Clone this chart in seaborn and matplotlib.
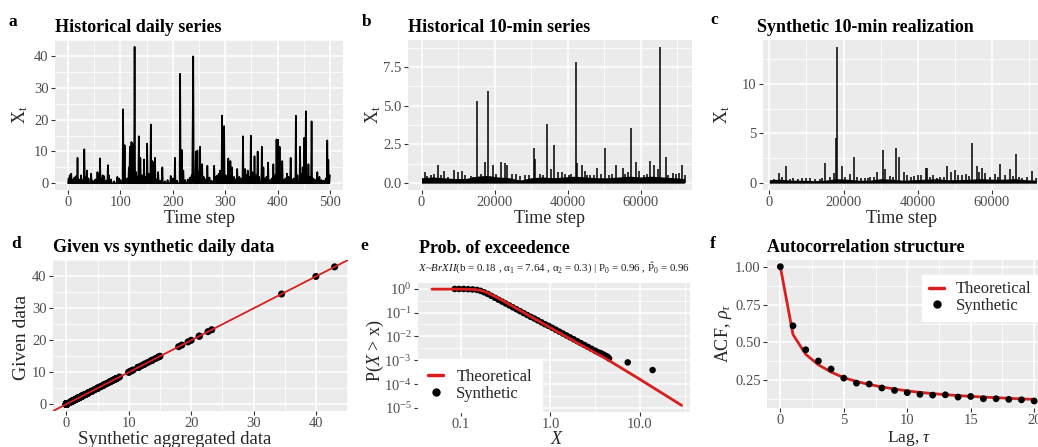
import numpy as np
import pandas as pd
import matplotlib
matplotlib.use("Agg")
import matplotlib.pyplot as plt
from matplotlib.lines import Line2D
from matplotlib.ticker import FixedLocator, NullFormatter
import seaborn as sns

# ------------------------------------------------------------------ data
# (a) historical daily series (day index -> depth); days not listed are dry (0)
a_peak_days = [3, 6, 18, 25, 31, 36, 44, 56, 61, 66, 76, 78, 94, 97, 105, 108, 113, 118, 121, 123,
               127, 130, 135, 138, 145, 151, 158, 161, 166, 172, 180, 196, 204, 214, 217, 220, 238,
               239, 244, 247, 252, 256, 266, 279, 285, 290, 294, 298, 306, 310, 313, 323, 334, 338,
               343, 349, 356, 362, 370, 373, 382, 392, 398, 401, 404, 409, 418, 425, 435, 443, 451,
               454, 459, 465, 476, 492, 495, 497, 500]
a_peak_vals = [2.5, 3.0, 8.0, 2.5, 10.7, 4.0, 3.0, 3.5, 7.8, 2.5, 5.7, 2.5, 2.0, 1.5, 23.3, 12.0, 1.5,
               11.5, 13.0, 12.5, 43.0, 3.5, 14.8, 8.0, 7.5, 12.5, 18.5, 7.0, 8.0, 3.5, 5.0, 2.3, 8.0,
               34.5, 10.5, 4.0, 20.0, 40.0, 10.0, 10.3, 11.5, 6.0, 5.5, 5.5, 2.5, 4.0, 21.3, 18.0, 7.8,
               7.0, 5.0, 4.5, 14.8, 4.5, 4.0, 15.0, 8.5, 10.0, 11.5, 5.0, 6.5, 6.0, 13.8, 13.7, 11.5,
               7.0, 3.0, 8.0, 21.3, 11.5, 14.3, 22.7, 6.0, 19.5, 3.5, 1.5, 13.5, 7.3, 2.5]
a_low_days = [1, 4, 9, 12, 15, 21, 28, 34, 39, 47, 52, 58, 63, 69, 73, 82, 88, 100, 110, 116, 120,
              125, 132, 141, 148, 155, 163, 169, 176, 185, 190, 200, 208, 224, 229, 233, 236, 242,
              249, 259, 262, 270, 274, 282, 288, 301, 317, 320, 327, 330, 341, 346, 352, 359, 365,
              376, 379, 386, 389, 395, 406, 412, 415, 421, 428, 431, 438, 446, 448, 456, 462, 468,
              471, 480, 484, 488]
a_low_vals = [1.5, 2.0, 1.0, 1.8, 2.2, 1.2, 1.0, 2.0, 1.5, 0.8, 1.2, 2.8, 1.5, 2.2, 0.8, 1.2, 0.6,
              1.0, 1.2, 5.0, 7.5, 3.0, 2.0, 2.5, 2.0, 3.0, 6.5, 1.2, 0.8, 0.6, 1.0, 1.5, 0.8, 1.0,
              1.2, 1.8, 2.5, 2.0, 3.5, 2.0, 1.2, 1.8, 0.8, 2.0, 3.0, 2.5, 2.0, 1.2, 2.0, 1.5, 2.5,
              2.0, 3.5, 2.5, 2.0, 1.5, 2.0, 1.0, 1.5, 2.5, 3.0, 1.0, 1.5, 2.0, 1.2, 1.5, 2.5, 3.0,
              5.0, 2.5, 2.0, 1.5, 1.2, 2.0, 1.0, 0.8]
n_days = 501

# (b) historical 10-min series: bursts (step, value) and the dense low-level band
b_steps = [900, 1500, 2540, 3300, 4540, 5200, 6180, 7280, 8840, 9850, 11110, 12000, 13410, 14200,
           15050, 16300, 17320, 18220, 19430, 20500, 21700, 22790, 23420, 24790, 25800, 27000,
           28260, 29360, 30640, 31000, 32500, 33200, 34370, 35300, 36200, 37210, 38300, 39200,
           40300, 41000, 42220, 42570, 43780, 44680, 45300, 46050, 47100, 48040, 49200, 50230,
           51250, 52070, 53160, 54990, 55700, 56360, 57180, 58550, 59600, 60900, 61800, 62540,
           63640, 64730, 65280, 66840, 67500, 68670, 69500, 70480, 71140, 72000]
b_vals = [0.7, 0.45, 0.5, 0.6, 1.15, 0.5, 0.8, 0.4, 0.85, 0.75, 0.8, 0.5, 0.45, 0.4, 5.3, 0.6, 1.35,
          5.95, 1.15, 0.6, 1.35, 1.3, 1.2, 0.6, 0.6, 0.45, 0.55, 0.55, 2.25, 1.55, 0.6, 0.5, 3.8,
          0.9, 2.45, 0.7, 0.7, 0.6, 0.55, 0.6, 7.85, 1.3, 1.15, 0.8, 0.55, 0.5, 0.5, 0.95, 0.6, 2.3,
          0.55, 0.6, 1.15, 1.0, 0.6, 0.75, 3.55, 1.35, 0.8, 0.5, 0.6, 1.45, 1.15, 0.9, 8.8, 1.7,
          0.5, 0.65, 0.6, 0.65, 1.2, 0.5]
b_band_steps = [0, 3000, 6000, 9000, 12000, 15000, 18000, 21000, 24000, 27000, 30000, 33000, 36000,
                39000, 42000, 45000, 48000, 51000, 54000, 57000, 60000, 63000, 66000, 69000, 72000]
b_band_vals = [0.35, 0.4, 0.35, 0.3, 0.3, 0.45, 0.5, 0.4, 0.35, 0.2, 0.35, 0.4, 0.35, 0.4, 0.45,
               0.4, 0.35, 0.35, 0.4, 0.45, 0.4, 0.45, 0.4, 0.35, 0.3]

# (c) synthetic 10-min realization
c_steps = [1170, 2510, 3500, 4580, 5500, 6370, 7600, 8800, 9800, 10860, 12200, 13550, 14300, 15080,
           16420, 17320, 18040, 18220, 19570, 20500, 21620, 22800, 23610, 24700, 25840, 26500,
           27190, 28300, 29150, 30600, 31220, 32500, 33300, 34190, 34910, 36160, 37060, 38230,
           39000, 40020, 41000, 42180, 42450, 43300, 44240, 45100, 46030, 47200, 48010, 49000,
           50070, 50970, 51870, 52950, 53800, 54740, 56080, 56620, 57430, 58150, 59490, 60840,
           61500, 62270, 63530, 64880, 65600, 66410, 67200, 68020, 69400, 70890, 71800]
c_vals = [0.45, 1.0, 0.6, 1.75, 0.4, 0.5, 0.45, 0.5, 0.5, 0.5, 0.45, 0.4, 0.5, 2.0, 0.6, 1.0, 4.5,
          13.7, 1.7, 0.6, 0.9, 2.6, 0.6, 0.5, 0.5, 0.5, 0.6, 0.6, 1.1, 3.35, 1.4, 0.7, 0.6, 3.5,
          2.65, 1.15, 0.8, 0.65, 0.7, 0.8, 0.8, 1.5, 1.55, 0.6, 0.8, 0.5, 0.65, 0.6, 1.75, 1.15,
          1.3, 0.8, 0.8, 0.9, 0.7, 4.0, 1.75, 1.15, 1.55, 1.05, 0.65, 0.9, 0.6, 1.9, 0.8, 1.45,
          0.7, 2.9, 0.6, 0.5, 0.6, 1.2, 0.5]
c_band_steps = b_band_steps
c_band_vals = [0.35, 0.4, 0.3, 0.3, 0.25, 0.3, 0.45, 0.4, 0.3, 0.3, 0.45, 0.4, 0.3, 0.35, 0.4,
               0.45, 0.35, 0.35, 0.4, 0.45, 0.4, 0.4, 0.45, 0.35, 0.3]

# (e) probability of exceedence (log10 values)
e_theo_log10x = [-1.324, -1.0, -0.85, -0.78, -0.72, -0.66, -0.60, -0.50, -0.40, -0.20, 0.0, 0.30,
                 0.637, 1.0, 1.466]
e_theo_log10p = [-0.018, -0.018, -0.03, -0.07, -0.14, -0.25, -0.36, -0.57, -0.78, -1.21, -1.64,
                 -2.27, -2.97, -3.80, -4.89]
e_syn_log10x = [-1.07, -1.02, -0.97, -0.92, -0.87, -0.82, -0.78, -0.74, -0.70, -0.66, -0.62, -0.58,
                -0.54, -0.50, -0.46, -0.42, -0.38, -0.34, -0.30, -0.26, -0.22, -0.18, -0.14, -0.10,
                -0.06, -0.02, 0.02, 0.06, 0.10, 0.14, 0.18, 0.22, 0.26, 0.30, 0.34, 0.38, 0.42,
                0.46, 0.50, 0.53, 0.56, 0.58, 0.60, 0.62, 0.64, 0.655, 0.864, 1.142]
e_syn_log10p = [-0.01, -0.01, -0.01, -0.02, -0.03, -0.05, -0.09, -0.15, -0.22, -0.30, -0.38, -0.46,
                -0.54, -0.62, -0.70, -0.78, -0.86, -0.94, -1.02, -1.10, -1.18, -1.25, -1.33, -1.41,
                -1.49, -1.56, -1.64, -1.72, -1.80, -1.88, -1.96, -2.04, -2.12, -2.20, -2.28, -2.36,
                -2.44, -2.52, -2.60, -2.66, -2.70, -2.74, -2.78, -2.82, -2.86, -2.92, -3.09, -3.41]

# (f) autocorrelation structure
f_lags = list(range(21))
f_theo = [1.0, 0.552, 0.422, 0.353, 0.305, 0.268, 0.243, 0.223, 0.207, 0.193, 0.181, 0.171,
          0.163, 0.156, 0.150, 0.145, 0.140, 0.136, 0.132, 0.128, 0.125]
f_syn = [1.0, 0.61, 0.452, 0.378, 0.325, 0.265, 0.232, 0.226, 0.2, 0.184, 0.169, 0.158, 0.153,
         0.155, 0.14, 0.144, 0.129, 0.129, 0.125, 0.122, 0.114]

# ------------------------------------------------------------------ style
RED = "#D81E1E"
sns.set_theme(style="darkgrid", rc={"axes.facecolor": "#EBEBEB", "grid.color": "white",
                                    "axes.edgecolor": "none"})
plt.rcParams["font.family"] = ["Liberation Serif", "DejaVu Serif"]
plt.rcParams["mathtext.fontset"] = "custom"
plt.rcParams["mathtext.rm"] = "Liberation Serif"
plt.rcParams["mathtext.it"] = "Liberation Serif:italic"
plt.rcParams["mathtext.bf"] = "Liberation Serif:bold"

W, H = 1038, 447
fig = plt.figure(figsize=(W / 100, H / 100), dpi=100)
fig.patch.set_facecolor("white")


def add_ax(l, r, t, b):
    return fig.add_axes([l / W, 1 - b / H, (r - l) / W, (b - t) / H])


def ftext(x, y, s, **kw):
    kw.setdefault("ha", "center")
    kw.setdefault("va", "center")
    fig.text(x / W, 1 - y / H, s, **kw)


def style(ax, xmaj, xmin, ymaj, ymin, xlabels=None, ylabels=None):
    ax.xaxis.set_major_locator(FixedLocator(xmaj))
    ax.yaxis.set_major_locator(FixedLocator(ymaj))
    ax.xaxis.set_minor_locator(FixedLocator(xmin))
    ax.yaxis.set_minor_locator(FixedLocator(ymin))
    ax.xaxis.set_minor_formatter(NullFormatter())
    ax.yaxis.set_minor_formatter(NullFormatter())
    if xlabels is not None:
        ax.set_xticklabels(xlabels)
    if ylabels is not None:
        ax.set_yticklabels(ylabels)
    ax.grid(which="major", color="white", lw=1.1)
    ax.grid(which="minor", color="white", lw=0.55)
    ax.tick_params(which="major", bottom=True, left=True, length=3, width=0.8, color="#333333",
                   labelsize=10.5, labelcolor="#4D4D4D", pad=1.5)
    ax.tick_params(which="minor", length=0)
    for s in ax.spines.values():
        s.set_visible(False)
    ax.set_axisbelow(True)
    ax.set_xlabel("")
    ax.set_ylabel("")


# ---------------------------------------------------------------- panel a
daily = np.zeros(n_days)
daily[a_low_days] = a_low_vals
daily[a_peak_days] = a_peak_vals
df_a = pd.DataFrame({"day": np.arange(n_days), "x": daily})
ax = add_ax(55, 343, 40, 190)
sns.lineplot(data=df_a, x="day", y="x", color="black", lw=1.2, errorbar=None, ax=ax)
ax.set_xlim(-25, 525)
ax.set_ylim(-2.15, 45.15)
style(ax, [0, 100, 200, 300, 400, 500], [50, 150, 250, 350, 450],
      [0, 10, 20, 30, 40], [5, 15, 25, 35, 45])

# ---------------------------------------------------------------- panel b
ax = add_ax(408, 692, 40, 190)
ax.fill_between(b_band_steps, 0, b_band_vals, color="black", lw=0)
ax.vlines(b_steps, 0, b_vals, color="black", lw=1.1)
ax.set_xlim(-3700, 74000)
ax.set_ylim(-0.44, 9.24)
style(ax, [0, 20000, 40000, 60000], [10000, 30000, 50000, 70000],
      [0, 2.5, 5.0, 7.5], [1.25, 3.75, 6.25, 8.75],
      xlabels=["0", "20000", "40000", "60000"], ylabels=["0.0", "2.5", "5.0", "7.5"])

# ---------------------------------------------------------------- panel c
ax = add_ax(763, 1038, 40, 190)
ax.fill_between(c_band_steps, 0, c_band_vals, color="black", lw=0)
ax.vlines(c_steps, 0, c_vals, color="black", lw=1.1)
ax.set_xlim(-1700, 72400)
ax.set_ylim(-0.685, 14.385)
style(ax, [0, 20000, 40000, 60000], [10000, 30000, 50000, 70000],
      [0, 5, 10], [2.5, 7.5, 12.5], xlabels=["0", "20000", "40000", "60000"])

# ---------------------------------------------------------------- panel d
ax = add_ax(53, 348, 260, 411)
df_d = pd.DataFrame({"synthetic": daily, "given": daily})
sns.scatterplot(data=df_d, x="synthetic", y="given", color="black", s=26, edgecolor="none", ax=ax)
ax.axline((0, 0), slope=1, color=RED, lw=1.3)
ax.set_xlim(-2.15, 45.15)
ax.set_ylim(-2.15, 45.15)
style(ax, [0, 10, 20, 30, 40], [5, 15, 25, 35, 45], [0, 10, 20, 30, 40], [5, 15, 25, 35, 45])

# ---------------------------------------------------------------- panel e
ax = add_ax(418, 690, 283, 412)
ax.set_xscale("log")
ax.set_yscale("log")
df_es = pd.DataFrame({"x": np.power(10.0, e_syn_log10x), "p": np.power(10.0, e_syn_log10p)})
df_et = pd.DataFrame({"x": np.power(10.0, e_theo_log10x), "p": np.power(10.0, e_theo_log10p)})
sns.scatterplot(data=df_es, x="x", y="p", color="black", s=22, edgecolor="none", ax=ax, zorder=3)
sns.lineplot(data=df_et, x="x", y="p", color=RED, lw=2.0, sort=False, errorbar=None, ax=ax,
             zorder=4)
ax.set_xlim(10 ** -1.48, 10 ** 1.56)
ax.set_ylim(10 ** -5.17, 10 ** 0.24)
style(ax, [0.1, 1.0, 10.0], [10 ** -1.5, 10 ** -0.5, 10 ** 0.5, 10 ** 1.5],
      [1e-5, 1e-4, 1e-3, 1e-2, 1e-1, 1e0],
      [10 ** -4.5, 10 ** -3.5, 10 ** -2.5, 10 ** -1.5, 10 ** -0.5],
      xlabels=["0.1", "1.0", "10.0"],
      ylabels=[r"$10^{-5}$", r"$10^{-4}$", r"$10^{-3}$", r"$10^{-2}$", r"$10^{-1}$", r"$10^{0}$"])
leg_handles = [Line2D([0], [0], color=RED, lw=2.5),
               Line2D([0], [0], color="black", marker="o", ls="none", ms=5)]
leg = ax.legend(leg_handles, ["Theoretical", "Synthetic"], loc="lower left",
                bbox_to_anchor=(0, 0), borderaxespad=0, frameon=True, facecolor="white",
                edgecolor="white", framealpha=1, fancybox=False, fontsize=12,
                handlelength=0.9, handletextpad=0.8, labelspacing=0.05, borderpad=0.6)
leg.set_zorder(10)

# ---------------------------------------------------------------- panel f
ax = add_ax(767, 1038, 260, 408)
df_f = pd.DataFrame({"lag": f_lags, "theo": f_theo, "syn": f_syn})
sns.lineplot(data=df_f, x="lag", y="theo", color=RED, lw=2.0, errorbar=None, ax=ax, zorder=3)
sns.scatterplot(data=df_f, x="lag", y="syn", color="black", s=24, edgecolor="none", ax=ax,
                zorder=4)
ax.set_xlim(-1.05, 20.3)
ax.set_ylim(0.068, 1.044)
style(ax, [0, 5, 10, 15, 20], [2.5, 7.5, 12.5, 17.5], [0.25, 0.5, 0.75, 1.0],
      [0.125, 0.375, 0.625, 0.875], ylabels=["0.25", "0.50", "0.75", "1.00"])
leg = ax.legend(leg_handles, ["Theoretical", "Synthetic"], loc="upper right",
                bbox_to_anchor=(1.0, 0.9), borderaxespad=0, frameon=True, facecolor="white",
                edgecolor="white", framealpha=1, fancybox=False, fontsize=12,
                handlelength=0.9, handletextpad=0.7, labelspacing=0.05, borderpad=0.4)

# ---------------------------------------------------------------- texts
BOLD = dict(fontweight="bold", color="black")
for letter, x, y in [("a", 13, 22), ("b", 367, 22), ("c", 714, 20),
                     ("d", 16, 244), ("e", 364, 246), ("f", 713, 244)]:
    ftext(x, y, letter, fontsize=12.5, **BOLD)
for title, x, y in [("Historical daily series", 55, 27), ("Historical 10-min series", 408, 27),
                    ("Synthetic 10-min realization", 757, 27),
                    ("Given vs synthetic daily data", 53, 248), ("Prob. of exceedence", 419, 248),
                    ("Autocorrelation structure", 767, 247)]:
    ftext(x, y, title, fontsize=13, ha="left", **BOLD)
ftext(418, 268, r"$X$~$BrXII$(b = 0.18 , α$_1$ = 7.64 , α$_2$ = 0.3) | P$_0$ = 0.96 , "
      r"$\hat{\mathrm{P}}_0$ = 0.96", fontsize=7.8, ha="left", color="#1A1A1A")

for x in (199, 550, 902):
    ftext(x, 218, "Time step", fontsize=13)
for x in (20, 373, 722):
    ftext(x, 115, r"X$_\mathrm{t}$", fontsize=13, rotation=90)
ftext(175, 439, "Synthetic aggregated data", fontsize=13.5)
ftext(22, 337, "Given data", fontsize=14, rotation=90)
ftext(557, 439, r"$X$", fontsize=13)
ftext(375, 351, r"P($X$ > x)", fontsize=13, rotation=90)
ftext(909, 438, r"Lag, $\tau$", fontsize=12.5)
ftext(723, 333, r"ACF, $\rho_\tau$", fontsize=13, rotation=90)

fig.savefig("out.png", dpi=100, facecolor="white")
